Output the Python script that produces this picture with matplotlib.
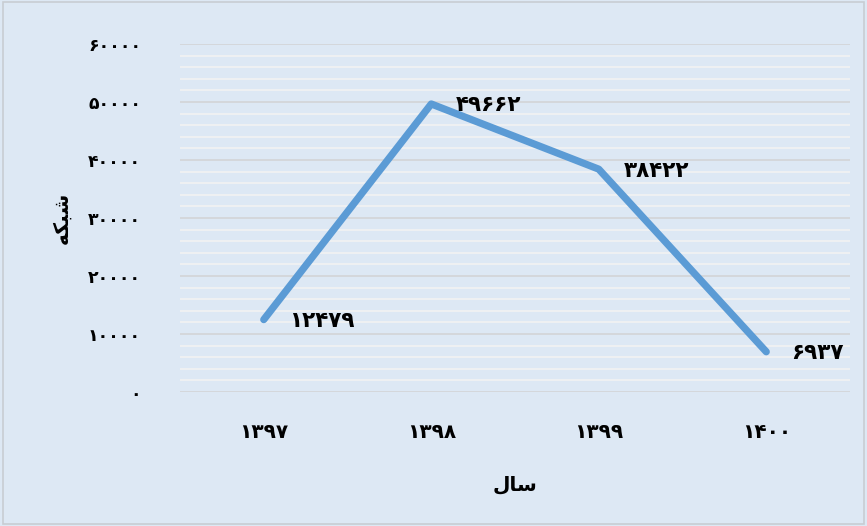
import matplotlib
matplotlib.use("Agg")
import matplotlib.pyplot as plt
from matplotlib.ticker import MultipleLocator, FixedLocator
from matplotlib.patches import Rectangle

categories = ["۱۳۹۷", "۱۳۹۸", "۱۳۹۹", "۱۴۰۰"]
values = [12479, 49662, 38422, 6937]
y_ticks = [0, 10000, 20000, 30000, 40000, 50000, 60000]

# Persian words written in presentation forms (visual order) since matplotlib has no shaping
x_title = "\uFEDD\uFE8E\uFEB3"           # سال
y_title = "\uFEEA\uFB91\uFE92\uFEB7"     # شبکه

def fa(n):
    return str(n).translate(str.maketrans("0123456789", "۰۱۲۳۴۵۶۷۸۹"))

plt.rcParams['font.family'] = ['DejaVu Sans']
bg = "#dde8f4"
fig = plt.figure(figsize=(8.67, 5.26), dpi=100, facecolor=bg)
fig.patches.append(Rectangle((0.003, 0.003), 0.994, 0.994, transform=fig.transFigure,
                             fill=False, edgecolor="#c8cdd3", linewidth=1.2))
ax = fig.add_axes([180/867, 134/526, 670/867, 348/526])
ax.set_facecolor(bg)
x = list(range(len(categories)))
ax.plot(x, values, color="#5b9bd5", linewidth=5.2, solid_capstyle="round",
        solid_joinstyle="round", zorder=3)
ax.set_xlim(-0.5, len(categories) - 0.5)
ax.set_ylim(0, 60000)
ax.yaxis.set_major_locator(FixedLocator(y_ticks))
ax.yaxis.set_minor_locator(MultipleLocator(2000))
ax.set_yticklabels([fa(v) for v in y_ticks])
ax.set_xticks(x)
ax.set_xticklabels(categories)
ax.grid(axis="y", which="major", color="#d4d6d9", linewidth=1.3, zorder=1)
ax.grid(axis="y", which="minor", color="#f0f1f2", linewidth=1.3, zorder=1)
ax.set_axisbelow(True)
for s in ax.spines.values():
    s.set_visible(False)
ax.tick_params(axis="both", which="both", length=0)
ax.tick_params(axis="y", pad=28, labelsize=12.5)
ax.tick_params(axis="x", pad=22, labelsize=14.5)
for lab in ax.get_yticklabels() + ax.get_xticklabels():
    lab.set_fontweight("bold")
for xi, v in zip(x, values):
    ax.annotate(fa(v), (xi, v), xytext=(18, -1), textcoords="offset points",
                ha="left", va="center", fontsize=15.5, fontweight="bold", zorder=4)
ax.set_xlabel(x_title, fontsize=14.5, fontweight="bold", labelpad=24)
ax.set_ylabel(y_title, fontsize=14.5, fontweight="bold", labelpad=12)
fig.savefig("out.png", dpi=100, facecolor=bg)
